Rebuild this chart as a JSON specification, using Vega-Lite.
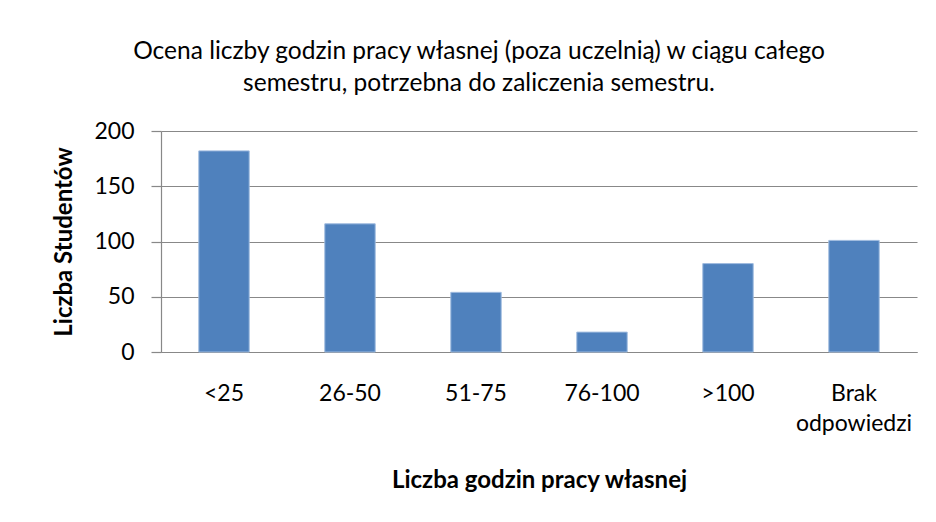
{
  "$schema": "https://vega.github.io/schema/vega-lite/v6.json",
  "width": 756,
  "height": 221,
  "autosize": {"type": "none"},
  "padding": {"left": 161, "top": 131, "right": 19, "bottom": 170},
  "background": "white",
  "title": {
    "text": ["Ocena liczby godzin pracy własnej (poza uczelnią) w ciągu całego", "semestru, potrzebna do zaliczenia semestru."],
    "font": "Lato",
    "fontSize": 24.5,
    "fontWeight": "normal",
    "color": "#000000",
    "lineHeight": 32,
    "anchor": "middle",
    "frame": "bounds",
    "offset": 24,
    "dx": -6
  },
  "data": {
    "values": [
      {"kategoria": "<25", "liczba": 182},
      {"kategoria": "26-50", "liczba": 116},
      {"kategoria": "51-75", "liczba": 54},
      {"kategoria": "76-100", "liczba": 18},
      {"kategoria": ">100", "liczba": 80},
      {"kategoria": "Brak odpowiedzi", "liczba": 101}
    ]
  },
  "mark": {"type": "bar", "color": "#4F81BD", "stroke": "#9fbbdf", "strokeWidth": 1},
  "encoding": {
    "x": {
      "field": "kategoria",
      "type": "nominal",
      "sort": null,
      "scale": {"paddingInner": 0.6, "paddingOuter": 0.3},
      "axis": {
        "title": "Liczba godzin pracy własnej",
        "labelAngle": 0,
        "labelExpr": "datum.label == 'Brak odpowiedzi' ? ['Brak', 'odpowiedzi'] : datum.label",
        "labelLineHeight": 30,
        "ticks": false,
        "labelPadding": 30,
        "titlePadding": 33,
        "domain": true,
        "domainColor": "#888888",
        "domainWidth": 1.2
      }
    },
    "y": {
      "field": "liczba",
      "type": "quantitative",
      "scale": {"domain": [0, 200]},
      "axis": {
        "title": "Liczba Studentów",
        "values": [0, 50, 100, 150, 200],
        "tickSize": 10,
        "tickColor": "#888888",
        "tickWidth": 1.2,
        "labelPadding": 17,
        "titlePadding": 17,
        "domainColor": "#888888",
        "domainWidth": 1.2,
        "grid": true,
        "gridColor": "#888888",
        "gridWidth": 1.2
      }
    }
  },
  "config": {
    "view": {"stroke": null},
    "axis": {
      "labelFont": "Lato",
      "labelFontSize": 23,
      "labelColor": "#000000",
      "titleFont": "Lato",
      "titleFontSize": 24,
      "titleFontWeight": "bold",
      "titleColor": "#000000"
    }
  }
}
